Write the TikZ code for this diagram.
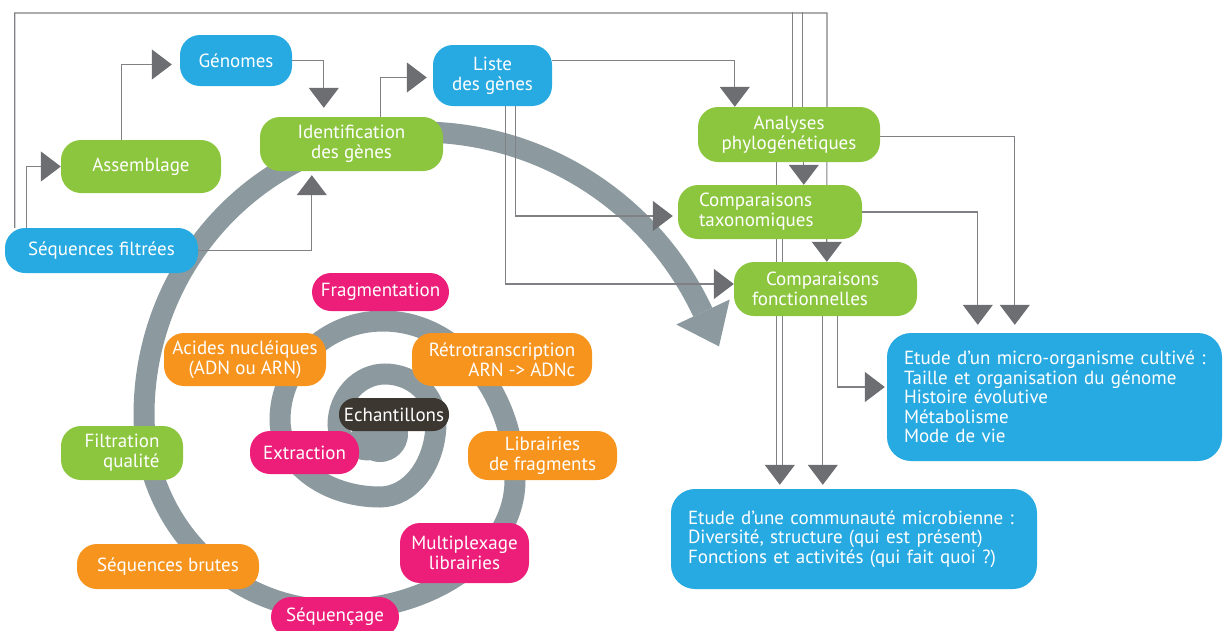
\documentclass[tikz,border=0pt]{standalone}
\usepackage{fontspec}
\setmainfont{PT Sans}
\usetikzlibrary{arrows.meta,calc}
\definecolor{cblue}{HTML}{27A9E1}
\definecolor{cgreen}{HTML}{8CC63F}
\definecolor{corange}{HTML}{F7941E}
\definecolor{cmag}{HTML}{EC1E79}
\definecolor{cdark}{HTML}{3C3731}
\definecolor{cspiral}{HTML}{8C9A9F}
\definecolor{clink}{HTML}{808184}
\definecolor{ctip}{HTML}{6D6E71}
\pgfdeclarelayer{spirallayer}
\pgfdeclarelayer{linklayer}
\pgfsetlayers{spirallayer,linklayer,main}
\begin{document}
\begin{tikzpicture}[x=1pt,y=-1pt,
  box/.style={rounded corners=20pt, text=white, align=center, inner sep=0pt,
    font=\fontsize{19}{20}\selectfont},
  bluebox/.style={box, fill=cblue},
  greenbox/.style={box, fill=cgreen},
  orangebox/.style={box, fill=corange},
  magbox/.style={box, fill=cmag},
  darkbox/.style={box, fill=cdark, rounded corners=16pt},
  link/.style={draw=clink, line width=1.2pt},
  arr/.style={link, -{Triangle[length=20pt,width=30pt,color=ctip,fill=ctip]}},
  band/.style={draw=cspiral, line width=21pt}
]
\useasboundingbox (0,0) rectangle (1224,630);

% ---------- nodes ----------
\node[bluebox, minimum width=112pt, minimum height=51pt] (genomes) at (236,60.5) {Génomes};
\node[bluebox, minimum width=119pt, minimum height=61pt] (liste) at (492.5,75.5) {Liste\\des gènes};
\node[greenbox, minimum width=183pt, minimum height=54pt] (ident) at (351.5,144) {Identification\\des gènes};
\node[greenbox, minimum width=160pt, minimum height=53pt] (assemb) at (141,166.5) {Assemblage};
\node[bluebox, minimum width=193pt, minimum height=45pt] (seqf) at (101.5,250.5) {Séquences filtrées};
\node[greenbox, minimum width=182pt, minimum height=55pt] (analyses) at (789,134.5) {Analyses\\phylogénétiques};
\node[greenbox, inner xsep=21pt, text width=142pt, minimum height=54pt, align=left] (comptax) at (770,212) {Comparaisons\\taxonomiques};
\node[greenbox, inner xsep=18pt, text width=147pt, minimum height=54pt, align=left] (compfonc) at (825.5,289) {\hspace*{14pt}Comparaisons\\fonctionnelles};
\node[bluebox, inner xsep=17pt, text width=301pt, minimum height=128pt, align=left, rounded corners=24pt,
  font=\fontsize{19}{19.5}\selectfont] (micro) at (1054.5,397)
  {\mbox{Etude d’un micro-organisme cultivé~:}\\Taille et organisation du génome\\Histoire évolutive\\Métabolisme\\Mode de vie};
\node[bluebox, inner xsep=17pt, text width=332pt, minimum height=100pt, align=left, rounded corners=24pt,
  font=\fontsize{19}{19.5}\selectfont] (commu) at (854,539)
  {Etude d’une communauté microbienne :\\Diversité, structure (qui est présent)\\Fonctions et activités (qui fait quoi ?)};
\node[magbox, minimum width=137pt, minimum height=38pt, rounded corners=19pt] (frag) at (380.5,292) {Fragmentation};
\node[orangebox, minimum width=162pt, minimum height=53pt] (acides) at (245,359.5) {Acides nucléiques\\(ADN ou ARN)};
\node[orangebox, minimum width=180pt, minimum height=53pt, align=right] (retro) at (502,359.5) {Rétrotranscription\\ARN -> ADNc};
\node[darkbox, minimum width=110pt, minimum height=33pt] (echant) at (394,414.5) {Echantillons};
\node[magbox, minimum width=109pt, minimum height=43pt] (extract) at (304.5,452.5) {Extraction};
\node[orangebox, minimum width=149pt, minimum height=49pt] (librair) at (542.5,455.5) {Librairies\\de fragments};
\node[magbox, minimum width=129pt, minimum height=60pt] (multi) at (464.5,553) {Multiplexage\\librairies};
\node[magbox, minimum width=128pt, minimum height=40pt] (sequencage) at (335,617) {Séquençage};
\node[orangebox, minimum width=182pt, minimum height=45pt] (seqb) at (168,566.5) {Séquences brutes};
\node[greenbox, minimum width=122pt, minimum height=54pt, align=right] (filtr) at (122,453) {Filtration\\qualité};

% ---------- spiral ----------
\begin{pgfonlayer}{spirallayer}
\fill[cspiral] (380,434) circle (28pt);
\draw[band] (370,450)
  arc[start angle=90,  end angle=180, x radius=32,  y radius=25]
  arc[start angle=180, end angle=270, x radius=47,  y radius=51]
  arc[start angle=270, end angle=360, x radius=51,  y radius=48]
  arc[start angle=0,   end angle=90,  x radius=56,  y radius=75]
  arc[start angle=90,  end angle=180, x radius=100, y radius=77]
  arc[start angle=180, end angle=270, x radius=103, y radius=99]
  arc[start angle=270, end angle=360, x radius=132, y radius=159]
  arc[start angle=0,   end angle=90,  x radius=180, y radius=130]
  arc[start angle=90,  end angle=180, x radius=191, y radius=195]
  arc[start angle=180, end angle=270, x radius=276, y radius=283]
  arc[start angle=270, end angle=335, radius=312];
\fill[cspiral] (729.7,299.5) -- (719,346.4) -- (676.3,324.5) -- cycle;
\end{pgfonlayer}

% ---------- connectors ----------
\begin{pgfonlayer}{linklayer}
\draw[arr] ([xshift=22pt]seqf.north west) |- (assemb.west);
\draw[arr] ([xshift=61pt]assemb.north west) |- ([xshift=-8pt,yshift=-4pt]genomes.west);
\draw[arr] (genomes.east) -| ([xshift=64pt,yshift=9pt]ident.north west);
\draw[arr] (seqf.east) -| ([xshift=52pt,yshift=-4pt]ident.south west);
\draw[arr] ([xshift=121pt]ident.north west) |- ([xshift=-6pt,yshift=-2pt]liste.west);
\draw[arr] ([yshift=15pt]liste.east) -| ([xshift=37pt]analyses.north west);
\draw[arr] ([xshift=83pt]liste.south west) |- ([xshift=-5pt,yshift=-4pt]comptax.west);
\draw[arr] ([xshift=73pt]liste.south west) |- ([yshift=5pt]compfonc.west);
% outer frame line from Séquences filtrées
\draw[arr] ([xshift=10pt]seqf.north west) |- (827,13) -- ([xshift=93pt]compfonc.north west);
\draw[link] ([xshift=95pt]analyses.north west) -- ++(0,-95);
\draw[link] ([xshift=105pt]analyses.north west) -- ++(0,-95);
\draw[arr] ([xshift=106pt]analyses.south west) -- ([xshift=126pt]comptax.north west);
\draw[link] ([xshift=79pt]analyses.south west) -- ++(0,305);
\draw[link] ([xshift=105pt]comptax.south west) -- ++(0,228);
\draw[arr] ([xshift=109pt,yshift=24pt]commu.north west) -- ([xshift=109pt,yshift=4pt]commu.north west);
\draw[arr] ([xshift=89pt]compfonc.south west) -- ([xshift=152pt,yshift=4pt]commu.north west);
\draw[arr] ([xshift=104pt]compfonc.south west) |- ([xshift=-2pt,yshift=10pt]micro.west);
\draw[arr] (comptax.east) -| ([xshift=91pt,yshift=8pt]micro.north west);
\draw[arr] ([yshift=-2pt]analyses.east) -| ([xshift=128pt,yshift=8pt]micro.north west);
\end{pgfonlayer}
\end{tikzpicture}
\end{document}
